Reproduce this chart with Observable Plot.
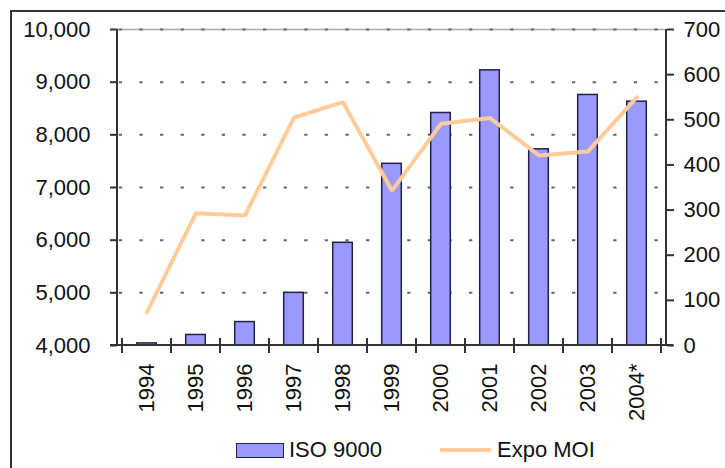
<!DOCTYPE html>
<html>
<head>
<meta charset="utf-8">
<script src="https://cdn.jsdelivr.net/npm/d3@7"></script>
<script src="https://cdn.jsdelivr.net/npm/@observablehq/plot@0.6"></script>
<style>
  html, body { margin: 0; padding: 0; background: #fff; overflow: hidden; }
  #wrap { position: relative; width: 725px; height: 468px; font-family: "Liberation Sans", Arial, sans-serif; }
  #frame { position: absolute; left: 10px; top: 10px; width: 740px; height: 480px; border-left: 2px solid #333; border-top: 2px solid #333; box-sizing: border-box; pointer-events: none; }
  #legend { position: absolute; top: 436px; left: 0; width: 725px; height: 28px; font-size: 22px; color: #111; }
  .lg { position: absolute; display: flex; align-items: center; height: 28px; }
  .sw-bar { width: 46px; height: 13px; background: #9999FF; border: 1.5px solid #222244; margin-right: 5px; }
  .sw-line { width: 51px; height: 4px; background: #FFCC99; margin-right: 6px; }
</style>
</head>
<body>
<div id="wrap">
  <div id="chart"></div>
  <div id="frame"></div>
  <div id="legend">
    <div class="lg" style="left:236px"><div class="sw-bar"></div><span>ISO 9000</span></div>
    <div class="lg" style="left:440px"><div class="sw-line"></div><span>Expo MOI</span></div>
  </div>
</div>
<script>
const years = ["1994","1995","1996","1997","1998","1999","2000","2001","2002","2003","2004*"];
const iso9000 = [4040, 4200, 4445, 5000, 5950, 7450, 8415, 9225, 7725, 8757, 8630];
const expoMOI = [74, 293, 288, 505, 539, 343, 491, 504, 421, 430, 550];
const leftTicks = [4000, 5000, 6000, 7000, 8000, 9000, 10000];
const rightTicks = [0, 100, 200, 300, 400, 500, 600, 700];

const yMin = 4000, yMax = 10000, rMax = 700;
const toLeft = v => yMin + v * (yMax - yMin) / rMax;
const toRight = v => Math.round((v - yMin) * rMax / (yMax - yMin));

const data = years.map((y, i) => ({year: y, iso: iso9000[i], moi: expoMOI[i]}));

function axesFrame(index, scales, values, dims) {
  const g = d3.create("svg:g");
  const x = scales.x, y = scales.y;
  const left = dims.marginLeft, right = dims.width - dims.marginRight;
  const yb = y(yMin), yt = y(yMax);
  const dom = x.domain();
  const edges = dom.map(d => x(d)).concat([x(dom[dom.length - 1]) + x.bandwidth()]);
  g.append("line").attr("x1", left).attr("x2", left).attr("y1", yt).attr("y2", yb).attr("stroke", "#333").attr("stroke-width", 2);
  g.append("line").attr("x1", right).attr("x2", right).attr("y1", yt).attr("y2", yb).attr("stroke", "#333").attr("stroke-width", 2);
  g.append("line").attr("x1", left - 7).attr("x2", right + 7).attr("y1", yb).attr("y2", yb).attr("stroke", "#333").attr("stroke-width", 2);
  edges.forEach(e => {
    g.append("line").attr("x1", e).attr("x2", e).attr("y1", yb - 7).attr("y2", yb + 8).attr("stroke", "#333").attr("stroke-width", 2);
  });
  return g.node();
}

const chart = Plot.plot({
  width: 725,
  height: 432,
  marginLeft: 117,
  marginRight: 59,
  marginTop: 29,
  marginBottom: 87,
  style: {fontFamily: "'Liberation Sans', Arial, sans-serif", fontSize: "22px", color: "#111", background: "transparent", overflow: "visible"},
  x: {domain: years, padding: 0, label: null},
  y: {domain: [yMin, yMax], label: null},
  marks: [
    Plot.ruleY([yMax], {stroke: "#aaa", strokeWidth: 1.5}),
    Plot.ruleY(leftTicks.slice(1), {stroke: "#666", strokeWidth: 2, strokeDasharray: "3.3,17.3", strokeDashoffset: -1.8}),
    Plot.barY(data, {x: "year", y1: () => yMin, y2: "iso", fill: "#9999FF", stroke: "#222244", strokeWidth: 1.5, insetLeft: 14.7, insetRight: 14.7}),
    Plot.line(data, {x: "year", y: d => toLeft(d.moi), stroke: "#FFCC99", strokeWidth: 4, strokeLinejoin: "miter"}),
    axesFrame,
    Plot.axisY(leftTicks, {anchor: "left", tickSize: 7, tickPadding: 20, tickFormat: d3.format(","), stroke: "#333", strokeWidth: 2, label: null}),
    Plot.axisY(rightTicks.map(toLeft), {anchor: "right", tickSize: 7, tickPadding: 10, tickFormat: toRight, stroke: "#333", strokeWidth: 2, label: null}),
    Plot.axisX({tickSize: 0, tickRotate: -90, tickPadding: 18, label: null})
  ]
});
document.getElementById("chart").appendChild(chart);
</script>
</body>
</html>
